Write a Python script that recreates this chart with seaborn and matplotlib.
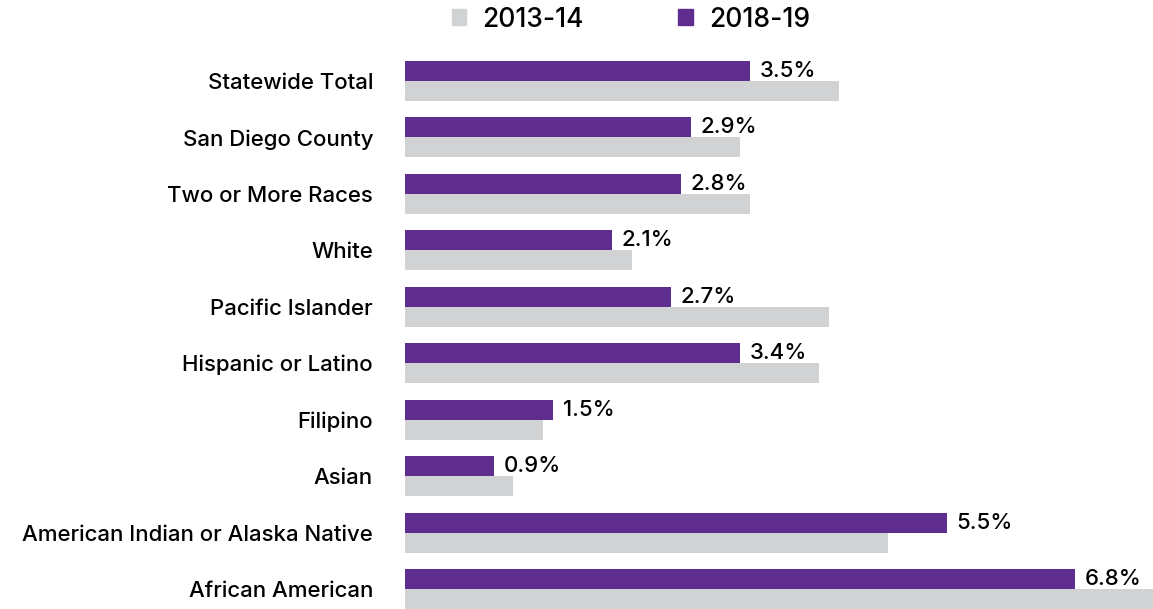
import pandas as pd
import seaborn as sns
import matplotlib.pyplot as plt
from matplotlib.patches import Patch

groups = ["Statewide Total", "San Diego County", "Two or More Races", "White",
          "Pacific Islander", "Hispanic or Latino", "Filipino", "Asian",
          "American Indian or Alaska Native", "African American"]
rate_2013 = [4.4, 3.4, 3.5, 2.3, 4.3, 4.2, 1.4, 1.1, 4.9, 7.7]
rate_2018 = [3.5, 2.9, 2.8, 2.1, 2.7, 3.4, 1.5, 0.9, 5.5, 6.8]

purple = "#5f2d8e"
gray = "#d1d2d4"

df = pd.DataFrame({
    "group": groups * 2,
    "year": ["2018-19"] * len(groups) + ["2013-14"] * len(groups),
    "rate": rate_2018 + rate_2013,
})

sns.set_style("white")
plt.rcParams["font.family"] = ["Inter", "DejaVu Sans"]
plt.rcParams["text.color"] = "black"
plt.rcParams["ytick.color"] = "black"

fig = plt.figure(figsize=(11.53, 6.09), dpi=100)
ax = fig.add_axes([405 / 1153, 0, 748 / 1153, 1])

sns.barplot(data=df, y="group", x="rate", hue="year", order=groups,
            hue_order=["2018-19", "2013-14"], palette=[purple, gray],
            orient="h", width=0.71, saturation=1, linewidth=0, ax=ax,
            legend=False)

ax.bar_label(ax.containers[0], fmt="%.1f%%", padding=7, fontsize=16,
             fontweight="medium")

ax.set_xlim(0, 7.59)
ax.set_ylim(9.354, -1.435)
ax.set_xlabel("")
ax.set_ylabel("")
ax.set_xticks([])
ax.tick_params(axis="y", length=0, pad=23, labelsize=16)
for lab in ax.get_yticklabels():
    lab.set_fontweight("medium")
sns.despine(ax=ax, left=True, bottom=True)

handles = [Patch(color=gray), Patch(color=purple)]
fig.legend(handles, ["2013-14", "2018-19"], loc="upper left",
           bbox_to_anchor=(428 / 1153, 1.028), ncol=2, frameon=False,
           prop={"size": 19, "weight": "medium"}, handlelength=0.55,
           handleheight=0.55, handletextpad=0.6, columnspacing=3.6)

plt.savefig("out.png", dpi=100)
